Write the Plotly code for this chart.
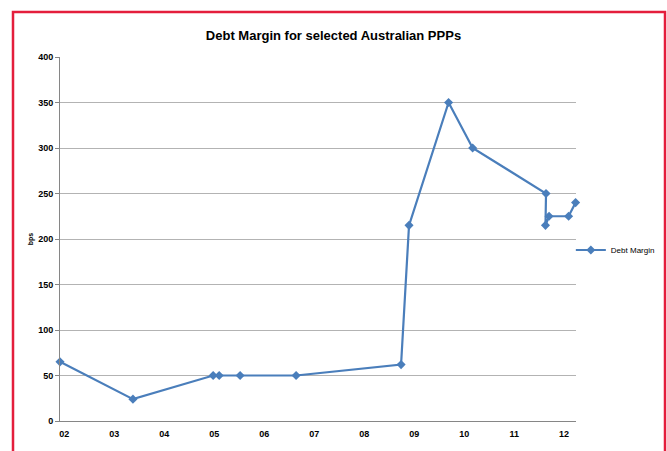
import plotly.graph_objects as go

# Debt margin observations (bps) for selected Australian PPPs
dates = ['2001-12-01', '2003-05-18', '2004-12-24', '2005-02-06', '2005-07-09',
         '2006-08-22', '2008-09-27', '2008-11-24', '2009-09-09', '2010-03-04',
         '2011-08-22', '2011-08-18', '2011-09-13', '2012-02-03', '2012-03-25']
margins = [65, 24, 50, 50, 50, 50, 62, 215, 350, 300, 250, 215, 225, 225, 240]

year_ticks = ['%d-01-01' % y for y in range(2002, 2013)]
year_labels = ['%02d' % (y % 100) for y in range(2002, 2013)]

blue = '#4a7ebb'
font_family = 'Liberation Sans'

W, H = 667, 451
L, R, T, B = 60, 91, 57, 30
pw, ph = W - L - R, H - T - B

fig = go.Figure()
fig.add_trace(go.Scatter(
    x=dates, y=margins, mode='lines+markers', name='Debt Margin',
    line=dict(color=blue, width=2.2),
    marker=dict(symbol='diamond', size=7, color=blue),
    cliponaxis=False,
))

fig.update_layout(
    width=W, height=H,
    paper_bgcolor='white', plot_bgcolor='white',
    margin=dict(l=L, r=R, t=T, b=B, autoexpand=False),
    font=dict(family=font_family, color='black'),
    title=dict(text='Debt Margin for selected Australian PPPs', x=0.5, xanchor='center',
               y=1 - 35 / H, yanchor='middle',
               font=dict(size=13, weight='bold', family=font_family)),
    showlegend=True,
    legend=dict(x=0.99, y=(H - B - 250) / ph, xanchor='left', yanchor='middle',
                font=dict(size=8), bgcolor='rgba(0,0,0,0)',
                itemwidth=30, tracegroupgap=0),
)

fig.update_xaxes(
    type='date', range=['2001-12-01', '2012-03-28'],
    tickvals=year_ticks, ticktext=year_labels,
    showgrid=False, zeroline=False, automargin=False,
    showline=True, linecolor='#868686', linewidth=1,
    ticks='', ticklabelstandoff=4, tickfont=dict(size=9, weight='bold'),
)
fig.update_yaxes(
    range=[0, 400], dtick=50, automargin=False,
    showgrid=True, gridcolor='#b3b3b3', gridwidth=1, zeroline=False,
    showline=True, linecolor='#868686', linewidth=1,
    ticks='outside', ticklen=4, tickcolor='#868686',
    tickfont=dict(size=9, weight='bold'),
    title=dict(text='bps', font=dict(size=7, weight='bold'), standoff=3),
)

# red frame around the chart
fig.add_shape(type='rect', xref='paper', yref='paper',
              x0=(13 - L) / pw, x1=(665 - L) / pw,
              y0=(H - B - 470) / ph, y1=(H - B - 12) / ph,
              line=dict(color='#e41e3c', width=2.5), fillcolor='rgba(0,0,0,0)')

# drop the default body margin so the figure sits at the page corner
fig.write_html('out.html', config={'displayModeBar': False},
               post_script="document.body.style.margin='0';")
